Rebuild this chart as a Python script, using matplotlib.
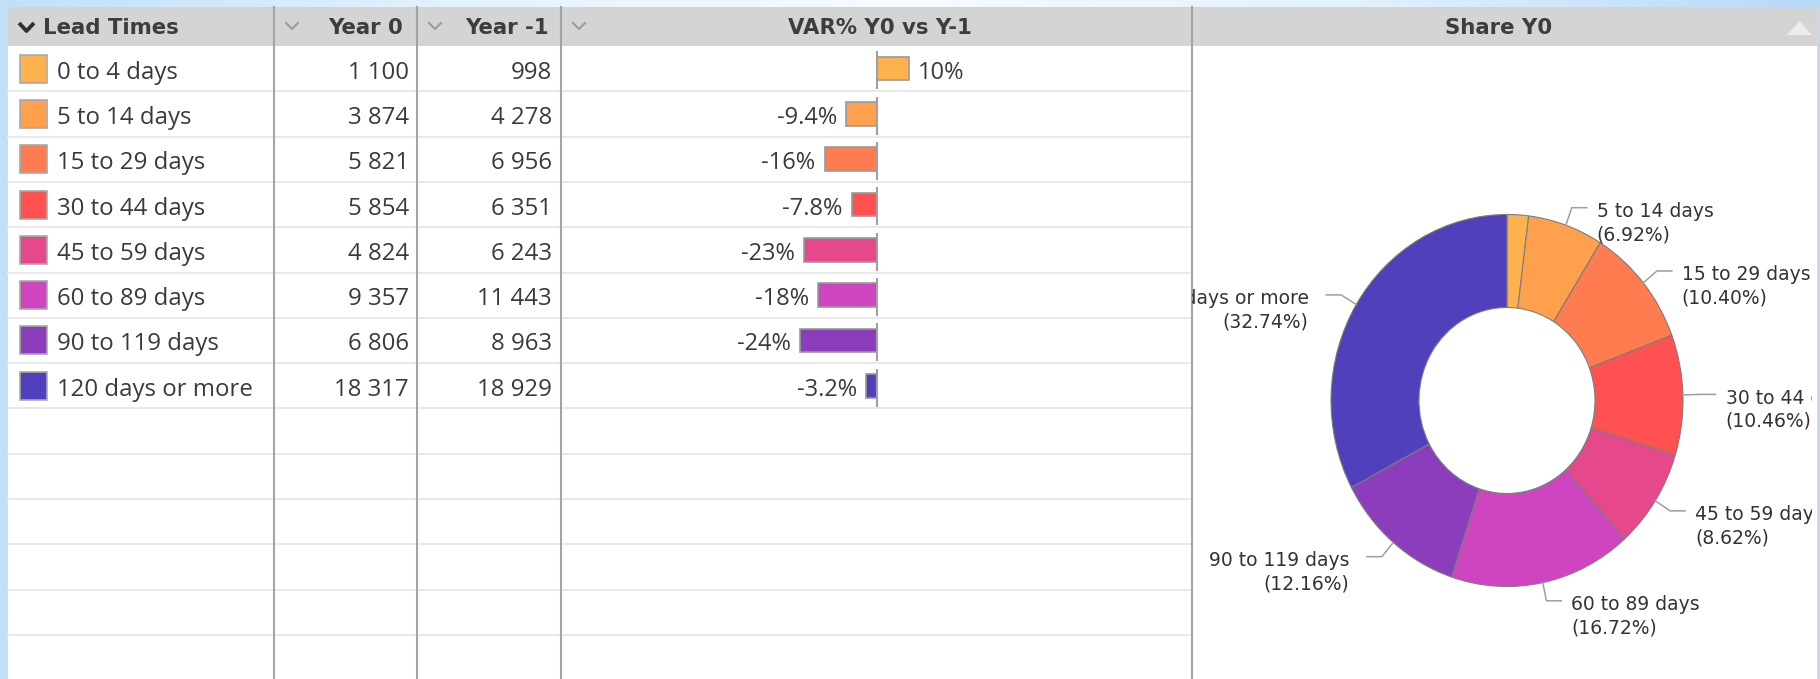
import numpy as np
import matplotlib.pyplot as plt
from matplotlib.patches import Rectangle, Polygon
from matplotlib.colors import LinearSegmentedColormap

# data
categories = ["0 to 4 days", "5 to 14 days", "15 to 29 days", "30 to 44 days",
              "45 to 59 days", "60 to 89 days", "90 to 119 days", "120 days or more"]
year0 = [1100, 3874, 5821, 5854, 4824, 9357, 6806, 18317]
year_1 = [998, 4278, 6956, 6351, 6243, 11443, 8963, 18929]
colors = ["#FDB24F", "#FFA04D", "#FF7C50", "#FF5151", "#E5488B",
          "#CF45BF", "#8B3DBB", "#5140BB"]
headers = ["Lead Times", "Year 0", "Year -1", "VAR% Y0 vs Y-1", "Share Y0"]

# derived the same way the dashboard does it
var_pct = [(a / b - 1) * 100 for a, b in zip(year0, year_1)]
share = [v / sum(year0) * 100 for v in year0]

W, H = 1820, 679
fig = plt.figure(figsize=(W / 100, H / 100), dpi=100)

# page background + table grid, in pixel coordinates
ax = fig.add_axes([0, 0, 1, 1])
ax.set_xlim(0, W)
ax.set_ylim(H, 0)
ax.axis('off')
grad = LinearSegmentedColormap.from_list(
    "bg", ["#c0e0fa", "#e4f2fd", "#f6fbff", "#e2f1fd", "#b6d9f8"])
ax.imshow(np.linspace(0, 1, 256)[None, :], cmap=grad, aspect='auto',
          extent=(0, W, H, 0), zorder=0)

left, right, top = 8, 1818, 7
head_b = 46
row_h = 45.3
n_rows = 14
cols = [left, 274, 417, 561, 1192, right]

ax.add_patch(Rectangle((left, top), right - left, H - top, fc='white', ec='none', zorder=1))
ax.add_patch(Rectangle((left, top), right - left, head_b - top, fc='#d4d4d4', ec='none', zorder=1))
ax.plot([right, right], [top, H], color='#d6d6d6', lw=1.2, zorder=2)
for k in range(1, n_rows + 1):
    y = head_b + k * row_h
    ax.plot([left, cols[4]], [y, y], color='#e9e9e9', lw=1.5, zorder=2)
for cx in cols[1:5]:
    ax.plot([cx, cx], [top, H], color='#a4a4a4', lw=1.5, zorder=3)

# header
hy = (top + head_b) / 2
hfont = dict(family='DejaVu Sans', fontweight='bold', fontsize=15.3, color='#3d3d3d',
             va='center', zorder=4)
ax.plot([19, 26.5, 34], [23, 31, 23], color='#333333', lw=2.8, zorder=4,
        solid_capstyle='butt')
ax.text(43, hy + 1, headers[0], ha='left', **hfont)
for cx in [286, 429, 573]:
    ax.plot([cx, cx + 6, cx + 12], [23, 29, 23], color='#9c9c9c', lw=1.5, zorder=4)
ax.text(403, hy + 1, headers[1], ha='right', **hfont)
ax.text(549, hy + 1, headers[2], ha='right', **hfont)
ax.text(880, hy + 1, headers[3], ha='center', **hfont)
ax.text(1499, hy + 1, headers[4], ha='center', **hfont)
ax.add_patch(Polygon([[1787, 35], [1812, 35], [1799.5, 21]], closed=True,
                     fc='#ececec', ec='none', zorder=4))

# rows of the table
rfont = dict(family='Open Sans', fontsize=17.3, color='#3a3a3a', va='center', zorder=4)
for i, (cat, c, v0, v1) in enumerate(zip(categories, colors, year0, year_1)):
    yc = head_b + (i + 0.5) * row_h
    ax.add_patch(Rectangle((20, yc - 14), 27, 28, fc=c, ec='#a9a9a9', lw=1.2, zorder=4))
    ax.text(57, yc + 4, cat, ha='left', **rfont)
    ax.text(409, yc + 4, f"{v0:,}".replace(",", " "), ha='right', **rfont)
    ax.text(552, yc + 4, f"{v1:,}".replace(",", " "), ha='right', **rfont)

# VAR% bars
n = len(categories)
bax = fig.add_axes([cols[3] / W, 1 - (head_b + n * row_h) / H,
                    (cols[4] - cols[3]) / W, n * row_h / H])
pos = np.arange(n)
bax.barh(pos, var_pct, height=0.52, color=colors, edgecolor='#9a9a9a', lw=1.2, zorder=2)
bax.vlines(np.zeros(n), pos - 0.38, pos + 0.46, color='#a0a0a0', lw=1.5, zorder=3)
for p, v in zip(pos, var_pct):
    off, ha = (-9, 'right') if v < 0 else (9, 'left')
    bax.annotate(f"{v:.2g}%", (v, p), xytext=(off, -4), textcoords='offset pixels',
                 ha=ha, va='center', family='Open Sans', fontsize=17, color='#3a3a3a')
bax.set_xlim(-99, 99)
bax.set_ylim(n - 0.5, -0.5)
bax.axis('off')

# Share Y0 donut
pie_r = 1812
cx, cy, rx, ry = 1507, 400.5, 176, 186
pw, ph = pie_r - cols[4], H - head_b
pax = fig.add_axes([cols[4] / W, 0, pw / W, ph / H])
wedges, _ = pax.pie(year0, colors=colors, startangle=90, counterclock=False,
                    wedgeprops=dict(width=0.5, edgecolor='#7d7d7d', linewidth=0.8))
pax.set_aspect('auto')
pax.set_xlim(-(cx - cols[4]) / rx, (pie_r - cx) / rx)
pax.set_ylim(-(H - cy) / ry, (ph - (H - cy)) / ry)
pax.axis('off')

lfont = dict(family='DejaVu Sans', fontsize=13.5, color='#333333', va='center',
             clip_on=True, textcoords='offset pixels', annotation_clip=False)
for w, cat, s in zip(wedges, categories, share):
    if s < 3:
        continue
    a = np.deg2rad((w.theta1 + w.theta2) / 2)
    ca, sa = np.cos(a), np.sin(a)
    side = 1 if ca >= 0 else -1
    x1, y1 = 1.1 * ca, 1.1 * sa
    x2 = x1 + side * 0.085
    pax.plot([ca, x1, x2], [sa, y1, y1], color='#9e9e9e', lw=1.1)
    tx = x2 + (0.057 if side > 0 else -0.1)
    ha = 'left' if side > 0 else 'right'
    pax.annotate(cat, (tx, y1), xytext=(0, -4), ha=ha, **lfont)
    pax.annotate(f"({s:.2f}%)", (tx, y1), xytext=(0, -27), ha=ha, **lfont)

fig.savefig("out.png", dpi=100)
